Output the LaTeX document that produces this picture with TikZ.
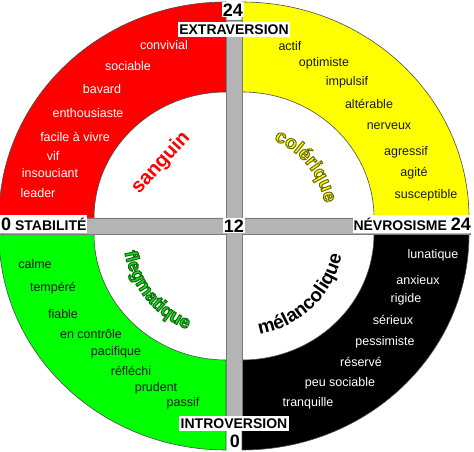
\documentclass[tikz,border=0pt]{standalone}
\usepackage{fontspec}
\setmainfont{Liberation Sans}
\usetikzlibrary{decorations.text}
\definecolor{qred}{HTML}{FF0000}
\definecolor{qyel}{HTML}{FFFF00}
\definecolor{qgreen}{HTML}{00FF00}
\definecolor{flgreen}{HTML}{22DD22}
\definecolor{bargray}{HTML}{B4B4B4}
\definecolor{bardark}{HTML}{7A7A7A}
\definecolor{txtdk}{HTML}{1A1A1A}
\newcommand\olivestroke{\special{pdf:literal direct 2 Tr 1 w 0.42 0.42 0 RG}}
\newcommand\greenstroke{\special{pdf:literal direct 2 Tr 1 w 0.04 0.42 0.04 RG}}
\begin{document}
\begin{tikzpicture}[x=1pt,y=1pt,
  quad/.style={draw=black!70, line width=0.6pt},
  trait/.style={font=\fontsize{12.5}{14}\selectfont, inner sep=0pt},
  wtrait/.style={trait, text=white},
  dtrait/.style={trait, text=txtdk},
  axislbl/.style={font=\bfseries\fontsize{14}{14}\selectfont, fill=white, inner xsep=1.5pt, inner ysep=2.5pt, text height=10pt, text depth=0pt},
  num/.style={font=\bfseries\fontsize{18}{18}\selectfont, fill=white, inner sep=1pt, text height=13pt, text depth=0pt},
  qname/.style={font=\bfseries\fontsize{20}{20}\selectfont}
]
\useasboundingbox (0,0) rectangle (474,452);

% quadrants
\path[quad, fill=qred] (226,360) -- (226,450) arc[start angle=90, end angle=180, x radius=227, y radius=216]
  -- (94,234) arc[start angle=180, end angle=90, x radius=132, y radius=126] -- cycle;
\path[quad, fill=qyel] (374,234) -- (469,234) arc[start angle=0, end angle=90, x radius=227, y radius=216]
  -- (242,360) arc[start angle=90, end angle=0, x radius=132, y radius=126] -- cycle;
\path[quad, fill=qgreen] (-1,218) arc[start angle=180, end angle=270, x radius=227, y radius=216]
  -- (226,92) arc[start angle=270, end angle=180, x radius=132, y radius=126] -- cycle;
\path[quad, fill=black] (242,2) arc[start angle=270, end angle=360, x radius=227, y radius=216]
  -- (374,218) arc[start angle=0, end angle=-90, x radius=132, y radius=126] -- cycle;

% gray cross
\path[fill=bargray, draw=bardark, line width=0.6pt]
  (226,432) -- (242,432) -- (242,234) -- (470,234) -- (470,218) -- (242,218) -- (242,22)
  -- (226,22) -- (226,218) -- (2,218) -- (2,234) -- (226,234) -- cycle;

% axis labels
\node[num] (top24) at (233,442) {24};
\node[axislbl] (extra) at (234,422.5) {EXTRAVERSION};
\node[axislbl] (intro) at (234,28.5) {INTROVERSION};
\node[num] (bot0) at (235,11) {0};
\node[num] (mid) at (234,226) {12};
\node[axislbl, anchor=west, inner xsep=1pt, text height=13pt] (stab) at (0,227.5) {{\fontsize{18}{18}\selectfont 0} STABILITÉ};
\node[axislbl, anchor=east, inner xsep=1pt, text height=13pt] (nevro) at (472,227.5) {NÉVROSISME {\fontsize{18}{18}\selectfont 24}};

% red traits
\node[wtrait] (t1) at (164,407) {convivial};
\node[wtrait] (t2) at (128,386) {sociable};
\node[wtrait] (t3) at (102,363) {bavard};
\node[wtrait] (t4) at (88,339) {enthousiaste};
\node[wtrait] (t5) at (75,315) {facile à vivre};
\node[wtrait] (t6) at (53,296) {vif};
\node[wtrait] (t7) at (50,279) {insouciant};
\node[wtrait] (t8) at (38,259) {leader};

% yellow traits
\node[dtrait] (y1) at (290,406) {actif};
\node[dtrait] (y2) at (324,389) {optimiste};
\node[dtrait] (y3) at (347,370) {impulsif};
\node[dtrait] (y4) at (369,348) {altérable};
\node[dtrait] (y5) at (389,326) {nerveux};
\node[dtrait] (y6) at (406,300) {agressif};
\node[dtrait] (y7) at (414,279) {agité};
\node[dtrait] (y8) at (426,257) {susceptible};

% green traits
\node[dtrait] (g1) at (35,188) {calme};
\node[dtrait] (g2) at (53,164) {tempéré};
\node[dtrait] (g3) at (63,138) {fiable};
\node[dtrait] (g4) at (91,118) {en contrôle};
\node[dtrait] (g5) at (116,100) {pacifique};
\node[dtrait] (g6) at (131,81) {réfléchi};
\node[dtrait] (g7) at (156,64) {prudent};
\node[dtrait] (g8) at (183,49) {passif};

% black traits
\node[wtrait] (b1) at (433,197) {lunatique};
\node[wtrait] (b2) at (418,172) {anxieux};
\node[wtrait] (b3) at (406,153) {rigide};
\node[wtrait] (b4) at (393,132) {sérieux};
\node[wtrait] (b5) at (385,110) {pessimiste};
\node[wtrait] (b6) at (361,90) {réservé};
\node[wtrait] (b7) at (340,69) {peu sociable};
\node[wtrait] (b8) at (308,49) {tranquille};

% quadrant names
\node[qname, text=qred, rotate=48] (sang) at (161,289) {sanguin};

\path[decorate, decoration={text along path, text align=center, text color=qyel,
    text={|\bfseries\fontsize{19}{19}\selectfont\olivestroke|colérique}}]
    (242,234) ++(90:84) arc[start angle=90, end angle=-12, radius=84];
\path[decorate, decoration={text along path, text align=center, text color=flgreen,
    text={|\bfseries\fontsize{18.5}{18.5}\selectfont\greenstroke|flegmatique}}]
    (226,218) ++(164:103) arc[start angle=164, end angle=274, radius=103];
\path[decorate, decoration={text along path, text align=center, text color=black,
    text={|\bfseries\fontsize{19}{19}\selectfont|mélancolique}}]
    (242,218) ++(-101:102) arc[start angle=-101, end angle=9, radius=102];
\end{tikzpicture}
\end{document}
